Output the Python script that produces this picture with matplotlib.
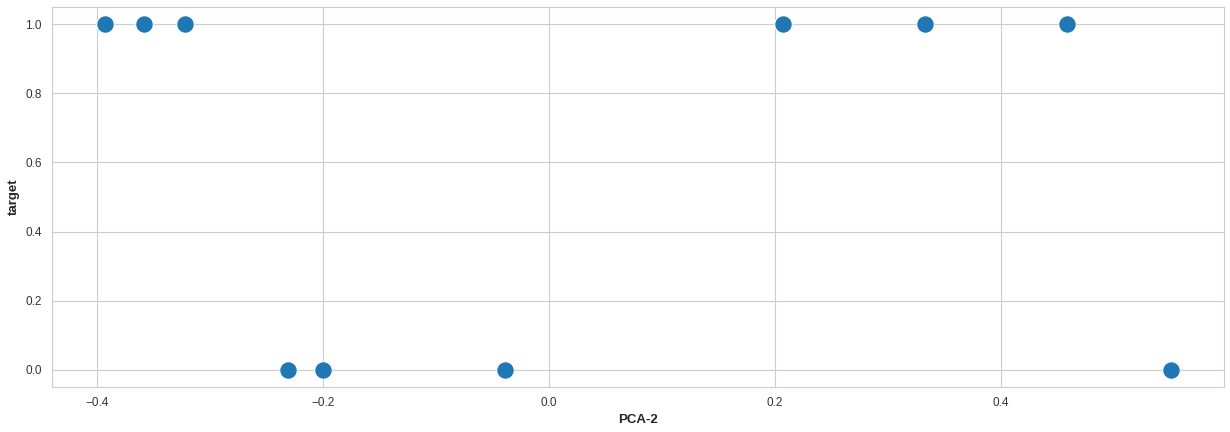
import matplotlib
matplotlib.use("Agg")
import matplotlib.pyplot as plt
import seaborn as sns

# values
pca_2 = [-0.393, -0.358, -0.322, -0.231, -0.200, -0.039, 0.207, 0.333, 0.458, 0.550]
target = [1, 1, 1, 0, 0, 0, 1, 1, 1, 0]

sns.set_style("whitegrid")
plt.rcParams['font.family'] = ['Liberation Sans', 'DejaVu Sans']

fig = plt.figure(figsize=(12.3, 4.32), dpi=100)
ax = fig.add_axes([0.042, 0.104, 0.953, 0.880])

sns.scatterplot(x=pca_2, y=target, s=160, color='#1f77b4', edgecolor='white', linewidth=0.8, ax=ax)

ax.set_xlabel('PCA-2', fontsize=9.5, fontweight='bold')
ax.set_ylabel('target', fontsize=9.5, fontweight='bold')
ax.tick_params(labelsize=8.5, colors='#333333')
for s in ax.spines.values():
  s.set_color('#cccccc')

plt.savefig('out.png', dpi=100)
